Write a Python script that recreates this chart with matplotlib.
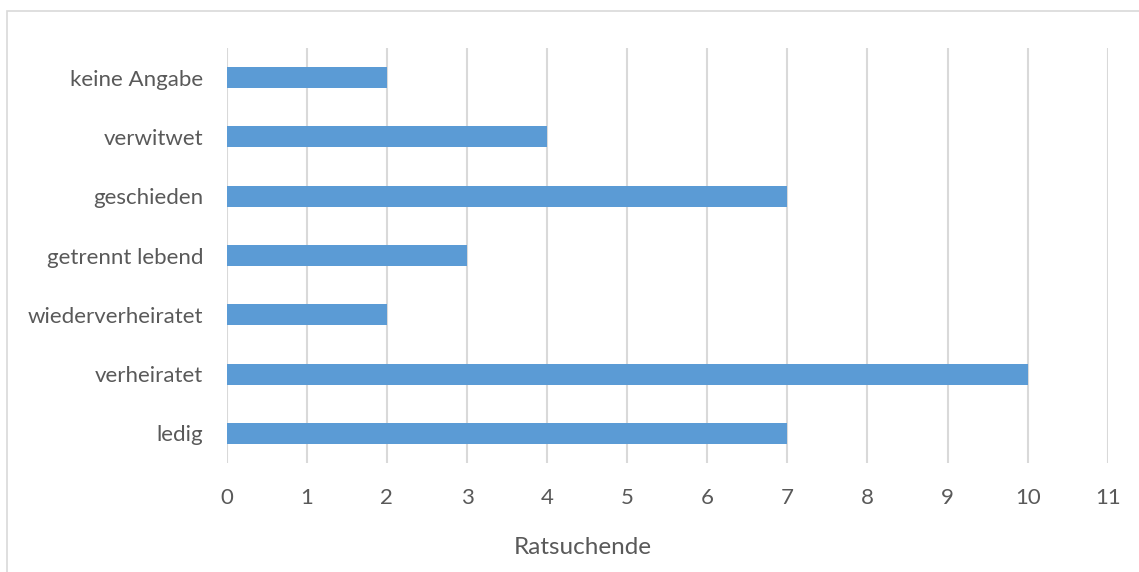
import matplotlib
matplotlib.use("Agg")
import matplotlib.pyplot as plt
from matplotlib.patches import Rectangle

categories = ["ledig", "verheiratet", "wiederverheiratet", "getrennt lebend",
              "geschieden", "verwitwet", "keine Angabe"]
counts = [7, 10, 2, 3, 7, 4, 2]
x_ticks = list(range(0, 12))
x_label = "Ratsuchende"

W, H = 1139, 572
fig = plt.figure(figsize=(W / 100, H / 100), dpi=100)
plt.rcParams["font.family"] = ["Lato", "DejaVu Sans"]

# chart frame
fig.patches.append(Rectangle((7 / W, -0.1), 1.2, 1 - 11 / H + 0.1,
                             transform=fig.transFigure, fill=False,
                             edgecolor="#D9D9D9", linewidth=1.2))

left, right = 226.7 / W, 1107.7 / W
top, bottom = 48 / H, 463 / H
ax = fig.add_axes([left, 1 - bottom, right - left, bottom - top])

text_color = "#595959"
ax.barh(range(len(categories)), counts, height=0.355, color="#5B9BD5", zorder=3)
ax.set_xlim(0, 11)
ax.set_ylim(-0.5, len(categories) - 0.5)
ax.set_xticks(x_ticks)
ax.set_xticklabels([str(t) for t in x_ticks])
ax.set_yticks(range(len(categories)))
ax.set_yticklabels(categories)
for x in x_ticks:
    ax.axvline(x, color="#D9D9D9", linewidth=1.5, zorder=1)
for s in ax.spines.values():
    s.set_visible(False)
ax.tick_params(axis="both", length=0, labelsize=16, colors=text_color)
ax.tick_params(axis="x", pad=18)
ax.tick_params(axis="y", pad=17)

fig.text(583 / W, 1 - 548 / H, x_label, ha="center", va="center",
         fontsize=17.5, color=text_color)

fig.savefig("out.png", dpi=100)
